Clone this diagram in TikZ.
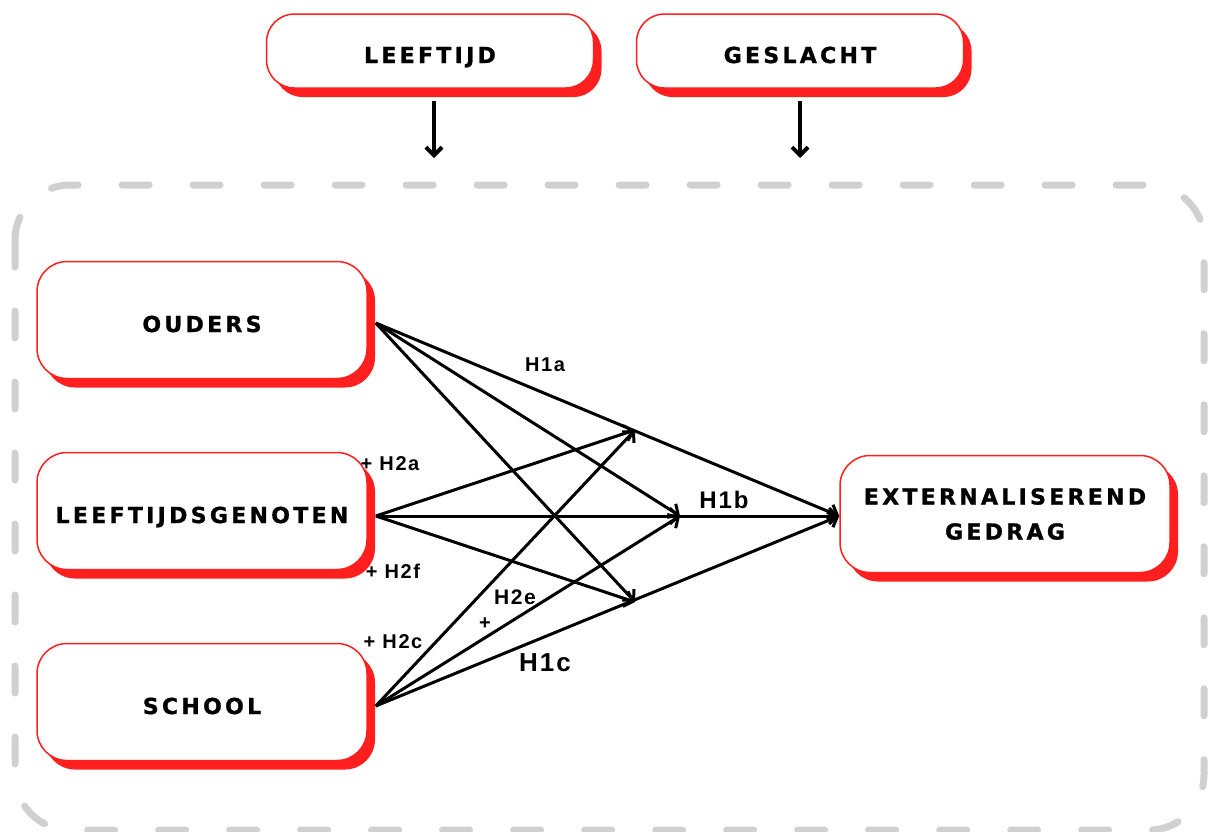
\documentclass[tikz,border=0pt]{standalone}
\usepackage{fontspec}
\newfontfamily\boxfont[LetterSpace=15, FakeBold=1.2]{DejaVu Sans Bold}
\newfontfamily\labfont[LetterSpace=8]{Liberation Sans Bold}
\usetikzlibrary{positioning}
\usetikzlibrary{shadows}
\usetikzlibrary{arrows.meta}
\definecolor{boxred}{HTML}{FF1F1F}
\definecolor{framegray}{HTML}{D0D0D0}
\tikzset{
factor/.style={draw=boxred, line width=1.5pt, fill=white, rounded corners=30pt,
  minimum width=330pt, minimum height=117pt, align=center,
  font=\boxfont\fontsize{22}{35}\selectfont,
  general shadow={fill=boxred, shadow xshift=8pt, shadow yshift=-9pt}},
low/.style={text height=24pt, text depth=0pt},
ctrl/.style={factor, low, minimum width=327pt, minimum height=74pt, rounded corners=28pt},
effect/.style={line width=3pt, -{Straight Barb[length=8pt,width=16pt]}},
hyp/.style={font=\labfont\fontsize{20}{24}\selectfont, inner sep=0pt},
bighyp/.style={hyp, font=\labfont\fontsize{24}{28}\selectfont},
frame/.style={draw=framegray, line width=7pt, line cap=round,
  dash pattern=on 27pt off 44pt, rounded corners=55pt}
}
\begin{document}
\begin{tikzpicture}[x=1pt,y=-1pt]
\useasboundingbox (0,0) rectangle (1209,831);
\draw[frame] (15,185) rectangle (1204,830);
\node[ctrl] (age) at (430,51) {LEEFTIJD};
\node[ctrl] (sex) at (800,51) {GESLACHT};
\node[factor, low] (oud) at (202,320) {OUDERS};
\node[factor, low] (peer) at (202,511) {LEEFTIJDSGENOTEN};
\node[factor, low] (sch) at (202,702) {SCHOOL};
\node[factor] (ext) at (1005,514) {EXTERNALISEREND\\GEDRAG};
\coordinate (age-in) at (434,158);
\coordinate (sex-in) at (800,158);
\coordinate (m1) at (635,430);
\coordinate (m2) at (680,516);
\coordinate (m3) at (635,602);
\draw[effect, line width=4pt] ([xshift=4pt,yshift=-12pt]age.south) -- (age-in);
\draw[effect, line width=4pt] ([yshift=-12pt]sex.south) -- (sex-in);
\draw[effect] ([xshift=8pt,yshift=-3pt]oud.east) -- ([yshift=-2pt]ext.west);
\draw[effect] ([xshift=8pt,yshift=-3pt]oud.east) -- (m2);
\draw[effect] ([xshift=8pt,yshift=-3pt]oud.east) -- (m3);
\draw[effect] ([xshift=8pt,yshift=-5pt]peer.east) -- (m1);
\draw[effect] ([xshift=8pt,yshift=-5pt]peer.east) -- (m2);
\draw[effect] ([xshift=8pt,yshift=-5pt]peer.east) -- ([yshift=-2pt]ext.west);
\draw[effect] ([xshift=8pt,yshift=-5pt]peer.east) -- (m3);
\draw[effect] ([xshift=8pt,yshift=-4pt]sch.east) -- (m1);
\draw[effect] ([xshift=8pt,yshift=-4pt]sch.east) -- (m2);
\draw[effect] ([xshift=8pt,yshift=-4pt]sch.east) -- ([yshift=-2pt]ext.west);
\node[hyp] (h1a) at (545,365) {H1a};
\node[bighyp] (h1b) at (724,500) {H1b};
\node[bighyp, font=\labfont\fontsize{26}{30}\selectfont] (h1c) at (545,663) {H1c};
\node[hyp] (h2a) at (390,464) {+ H2a};
\node[hyp] (h2f) at (393,571) {+ H2f};
\node[hyp] (h2c) at (393,642) {+ H2c};
\node[hyp, font=\labfont\fontsize{21}{24}\selectfont] (h2e) at (515,597) {H2e};
\node[hyp] (h2d) at (485,624) {+};
\end{tikzpicture}
\end{document}
